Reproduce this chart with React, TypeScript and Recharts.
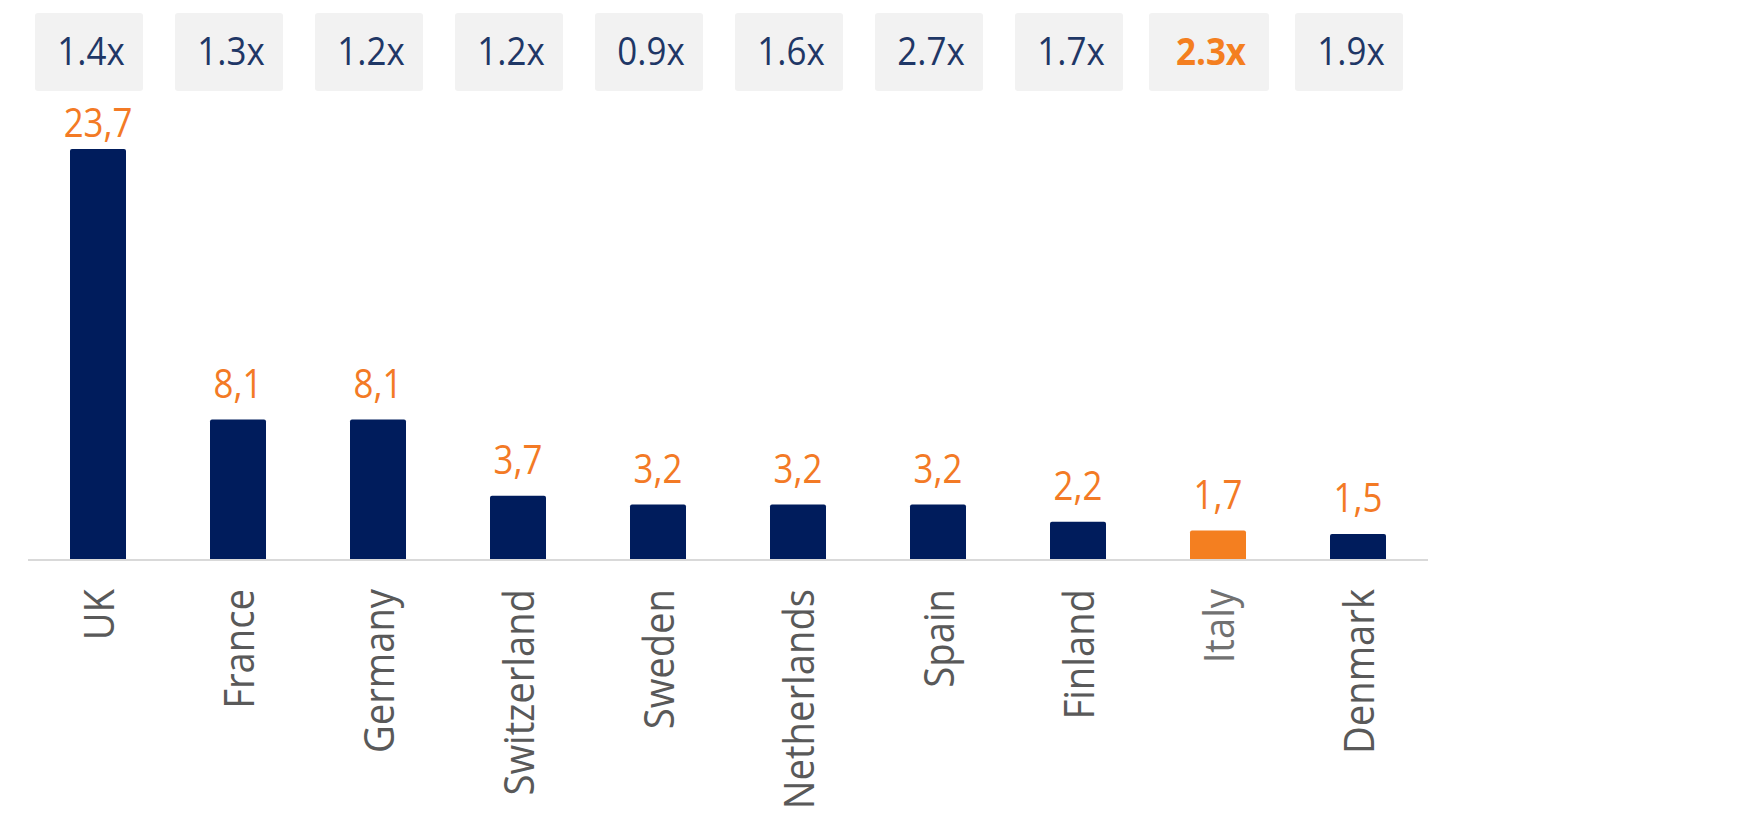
import { BarChart, Bar, XAxis, YAxis, Cell, LabelList } from "recharts";

const countries = [
  "UK",
  "France",
  "Germany",
  "Switzerland",
  "Sweden",
  "Netherlands",
  "Spain",
  "Finland",
  "Italy",
  "Denmark",
];
const values = [23.7, 8.1, 8.1, 3.7, 3.2, 3.2, 3.2, 2.2, 1.7, 1.5];
const multiples = [1.4, 1.3, 1.2, 1.2, 0.9, 1.6, 2.7, 1.7, 2.3, 1.9];
const highlight = "Italy";

const NAVY = "#001c5c";
const ORANGE = "#f47f20";
const LABEL_ORANGE = "#f37a25";
const BOX_TEXT = "#1f3766";
const AXIS_TEXT = "#595959";
const FONT = "'Open Sans', 'Noto Sans', sans-serif";

const data = countries.map((country, i) => ({
  country,
  value: values[i],
  multiple: multiples[i],
}));

const fmtComma = (v: number) => v.toFixed(1).replace(".", ",");

const ValueLabel = (props: any) => {
  const { x, y, width, value } = props;
  const cx = Number(x) + Number(width) / 2;
  // keep the tallest label clear of the multiple boxes
  const baseline = Math.max(Number(y) - 22, 137);
  return (
    <text
      transform={`translate(${cx},${baseline}) scale(0.87,1)`}
      textAnchor="middle"
      fill={LABEL_ORANGE}
      fontSize={40}
      fontFamily={FONT}
    >
      {fmtComma(Number(value))}
    </text>
  );
};

const CountryTick = (props: any) => {
  const { x, y, payload } = props;
  const hi = payload.value === highlight;
  return (
    <text
      transform={`translate(${x + 16},${y - 1}) rotate(-90) scale(0.91,1)`}
      textAnchor="end"
      fill={AXIS_TEXT}
      fontSize={42}
      fontFamily={FONT}
      opacity={hi ? 0.85 : 1}
    >
      {payload.value}
    </text>
  );
};

const MultipleTick = (props: any) => {
  const { x, payload, index } = props;
  const hi = payload.value === highlight;
  const w = hi ? 120 : 108;
  const cx = x - 9;
  const m = multiples[index];
  return (
    <g>
      <rect x={cx - w / 2} y={13} width={w} height={78} rx={3} fill="#f2f2f2" />
      <text
        transform={`translate(${cx + 2},65) scale(0.92,1)`}
        textAnchor="middle"
        fill={hi ? ORANGE : BOX_TEXT}
        fontSize={38}
        fontWeight={hi ? 700 : 400}
        fontFamily={FONT}
      >
        {`${m.toFixed(1)}x`}
      </text>
    </g>
  );
};

export default function App() {
  return (
    <div style={{ position: "absolute", left: 0, top: 0, background: "#fff" }}>
      <BarChart
        width={1748}
        height={838}
        data={data}
        margin={{ top: 89, right: 320, bottom: 0, left: 28 }}
        barSize={56}
      >
        <XAxis
          xAxisId="top"
          orientation="top"
          dataKey="country"
          height={60}
          axisLine={false}
          tickLine={false}
          interval={0}
          tick={<MultipleTick />}
        />
        <XAxis
          xAxisId="bottom"
          dataKey="country"
          height={278}
          interval={0}
          axisLine={{ stroke: "#d9d9d9", strokeWidth: 2 }}
          tickLine={false}
          tickSize={0}
          tickMargin={30}
          tick={<CountryTick />}
        />
        <YAxis hide domain={[0, "dataMax"]} />
        <Bar xAxisId="bottom" dataKey="value" isAnimationActive={false} radius={[2, 2, 0, 0]}>
          {data.map((d) => (
            <Cell key={d.country} fill={d.country === highlight ? ORANGE : NAVY} />
          ))}
          <LabelList dataKey="value" content={<ValueLabel />} />
        </Bar>
      </BarChart>
    </div>
  );
}
